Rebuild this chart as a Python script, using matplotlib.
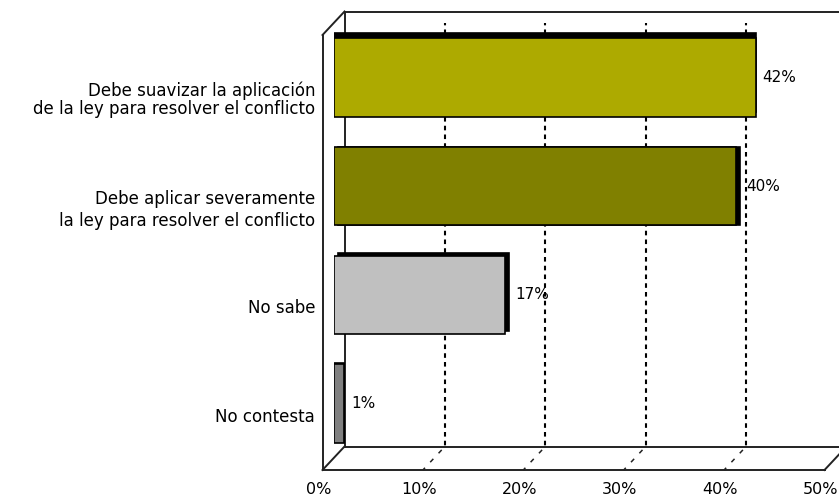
import matplotlib
matplotlib.use('agg')
from matplotlib import pyplot as plt
from matplotlib.transforms import ScaledTranslation

# survey answers, top to bottom
categories = ['Debe suavizar la aplicación\nde la ley para resolver el conflicto',
              'Debe aplicar severamente\nla ley para resolver el conflicto',
              'No sabe',
              'No contesta']
values = [42, 40, 17, 1]
value_labels = ['42%', '40%', '17%', '1%']
xticks = [0, 10, 20, 30, 40, 50]
xtick_labels = ['0%', '10%', '20%', '30%', '40%', '50%']

colors = ['#ADAA00', '#808000', '#C0C0C0', '#808080']
shadow = [(0, 5), (4, 0), (4, 3), (0, 1)]   # px offset of the dark bar side
label_spacing = [1.0, 1.25, 1.0, 1.0]

DPI = 100
fig = plt.figure(figsize=(8.39, 4.97), dpi=DPI)
ax = fig.add_axes([334 / 839, 39 / 497, 502 / 839, 435 / 497])
ax.set_xlim(0, 50)
ax.set_ylim(3.5, -0.5)
ax.axis('off')

def shift(dx, dy):
    '''data transform moved by dx, dy pixels'''
    return ax.transData + ScaledTranslation(dx / DPI, dy / DPI, fig.dpi_scale_trans)

back = (10.5, 11.5)
front = (-11.5, -12)
tb = shift(*back)
tf = shift(*front)

# back wall
ax.vlines(xticks[1:-1], -0.5, 3.5, colors='black', linestyles=(0, (2.2, 2.0)),
          linewidth=1.5, transform=tb, zorder=1)
ax.plot([0, 0], [-0.5, 3.5], color='#222222', lw=1.4, transform=tb, clip_on=False, zorder=1)
ax.plot([0, 52], [-0.5, -0.5], color='#222222', lw=1.4, transform=tb, clip_on=False, zorder=1)
ax.plot([0, 52], [3.5, 3.5], color='#222222', lw=1.4, transform=tb, clip_on=False, zorder=1)

# front edges
ax.plot([0, 0], [-0.5, 3.5], color='#222222', lw=1.4, transform=tf, clip_on=False, zorder=1)
ax.plot([0, 50], [3.5, 3.5], color='#222222', lw=1.4, transform=tf, clip_on=False, zorder=1)

def diag(x, y, **kw):
    p0 = tf.transform((x, y))
    p1 = tb.transform((x, y))
    ax.plot([p0[0], p1[0]], [p0[1], p1[1]], transform=None, clip_on=False, **kw)

diag(0, -0.5, color='#222222', lw=1.4, zorder=1)
diag(0, 3.5, color='#222222', lw=1.4, zorder=1)
diag(50, 3.5, color='#222222', lw=1.4, zorder=1)
for x in xticks[1:-1]:
    diag(x, 3.5, color='#222222', lw=1.1, linestyle=(1, (3, 5)), zorder=1)

# bars with a dark side
for i, v in enumerate(values):
    ax.barh(i, v, height=0.72, color='black', edgecolor='black', linewidth=1.2,
            transform=shift(*shadow[i]), zorder=2)
    ax.barh(i, v, height=0.72, color=colors[i], edgecolor='black', linewidth=1.2, zorder=3)
    ax.text(v, i, value_labels[i], transform=shift(7 + shadow[i][0], 0), ha='left', va='center',
            fontsize=11, color='black', zorder=4)
    ax.text(0, i, categories[i], transform=shift(-19, -4), ha='right', va='top',
            fontsize=12, linespacing=label_spacing[i], color='black', multialignment='right')

for x, lab in zip(xticks, xtick_labels):
    ax.text(x, 3.5, lab, transform=shift(front[0] - 4, front[1] - 20), ha='center', va='center',
            fontsize=11.5, color='black', clip_on=False)

fig.savefig('out.png', dpi=DPI)
